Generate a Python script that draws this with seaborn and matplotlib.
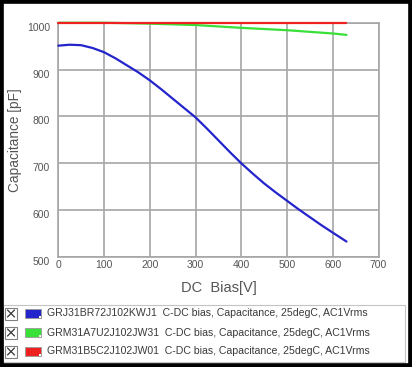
import matplotlib
matplotlib.use('Agg')
import matplotlib.pyplot as plt
from matplotlib.patches import Rectangle
from matplotlib.lines import Line2D
import seaborn as sns
import pandas as pd

# values
parts = ['GRJ31BR72J102KWJ1', 'GRM31A7U2J102JW31', 'GRM31B5C2J102JW01']
legend_tail = '  C-DC bias, Capacitance, 25degC, AC1Vrms'
colors = ['#2424cc', '#38e038', '#ee2020']

bias_blue = [0, 25, 50, 75, 100, 125, 150, 175, 200, 225, 250, 275, 300, 325,
             350, 375, 400, 425, 450, 475, 500, 525, 550, 575, 600, 630]
cap_blue = [951, 953, 952, 946, 937, 924, 909, 894, 877, 858, 838, 818, 798, 774,
            749, 724, 700, 678, 657, 638, 620, 602, 585, 568, 552, 533]

bias_green = [0, 100, 200, 300, 400, 500, 600, 630]
cap_green = [1000, 1000, 998, 995, 989, 984, 977, 974]

bias_red = [0, 100, 200, 300, 400, 500, 600, 630]
cap_red = [1000, 1000, 1000, 1000, 1000, 1000, 1000, 1000]

x_ticks = [0, 100, 200, 300, 400, 500, 600, 700]
y_ticks = [500, 600, 700, 800, 900, 1000]

df = pd.concat([
    pd.DataFrame({'bias': bias_blue, 'cap': cap_blue, 'part': parts[0]}),
    pd.DataFrame({'bias': bias_green, 'cap': cap_green, 'part': parts[1]}),
    pd.DataFrame({'bias': bias_red, 'cap': cap_red, 'part': parts[2]}),
])

sns.set_style('white')
plt.rcParams['font.family'] = ['Liberation Sans', 'DejaVu Sans']

W, H = 412, 367
fig = plt.figure(figsize=(W / 100, H / 100), dpi=100)
ax = fig.add_axes([58.3 / W, 1 - 257 / H, 320.2 / W, 234.3 / H])

sns.lineplot(data=df, x='bias', y='cap', hue='part', palette=colors,
             linewidth=1.6, legend=False, ax=ax, sort=False)
for ln in ax.lines:
    ln.set_clip_on(False)
    ln.set_zorder(4)
    ln.set_solid_joinstyle('round')

grid_c = '#a6a6a6'
ax.set_xlim(0, 700)
ax.set_ylim(500, 1000)
ax.set_xticks(x_ticks)
ax.set_yticks(y_ticks, [str(v) for v in y_ticks], va='top')
ax.grid(True, color=grid_c, linewidth=1.2)
for s in ax.spines.values():
    s.set_color(grid_c)
    s.set_linewidth(1.2)
    s.set_zorder(1)
ax.tick_params(length=0, labelsize=7.5, labelcolor='#555555')
ax.tick_params(axis='y', pad=6)
ax.tick_params(axis='x', pad=2)

ax.set_xlabel('DC  Bias[V]', fontsize=10.5, color='#555555', va='center')
ax.set_ylabel('Capacitance [pF]', fontsize=9.8, color='#555555', va='center')
ax.xaxis.set_label_coords(0.5, (257 - 288) / 234.3)
ax.yaxis.set_label_coords((15 - 58.3) / 320.2, 0.5)

# legend panel underneath
def fx(px):
    return px / W

def fy(py):
    return 1 - py / H

fig.patches.append(Rectangle((fx(3), fy(362)), fx(402), 57 / H, transform=fig.transFigure,
                             facecolor='white', edgecolor='#c4c4c4', linewidth=0.8))
rows = [313.5, 332.5, 351.5]
for yc, name, c in zip(rows, parts, colors):
    fig.patches.append(Rectangle((fx(5), fy(yc + 6)), fx(12), 12 / H, transform=fig.transFigure,
                                 facecolor='white', edgecolor='#808080', linewidth=0.8))
    for a, b in [((7.5, yc - 3.5), (14.5, yc + 3.5)), ((7.5, yc + 3.5), (14.5, yc - 3.5))]:
        fig.lines.append(Line2D([fx(a[0]), fx(b[0])], [fy(a[1]), fy(b[1])],
                                transform=fig.transFigure, color='#333333', linewidth=0.9))
    fig.patches.append(Rectangle((fx(25), fy(yc + 4.5)), fx(16), 9 / H, transform=fig.transFigure,
                                 facecolor=c, edgecolor='#9a9a9a', linewidth=0.6))
    fig.patches.append(Rectangle((fx(38.5), fy(yc + 4.5)), fx(2.5), 2.5 / H, transform=fig.transFigure,
                                 facecolor='white', edgecolor='none'))
    fig.text(fx(47), fy(yc), name + legend_tail, fontsize=7.6, color='#3a3a3a',
             va='center', ha='left')

# dark frame round the screenshot
fig.patches.append(Rectangle((0, 0), 1, 1, transform=fig.transFigure,
                             facecolor='none', edgecolor='black', linewidth=5.5))

fig.savefig('out.png', dpi=100, facecolor='white')
